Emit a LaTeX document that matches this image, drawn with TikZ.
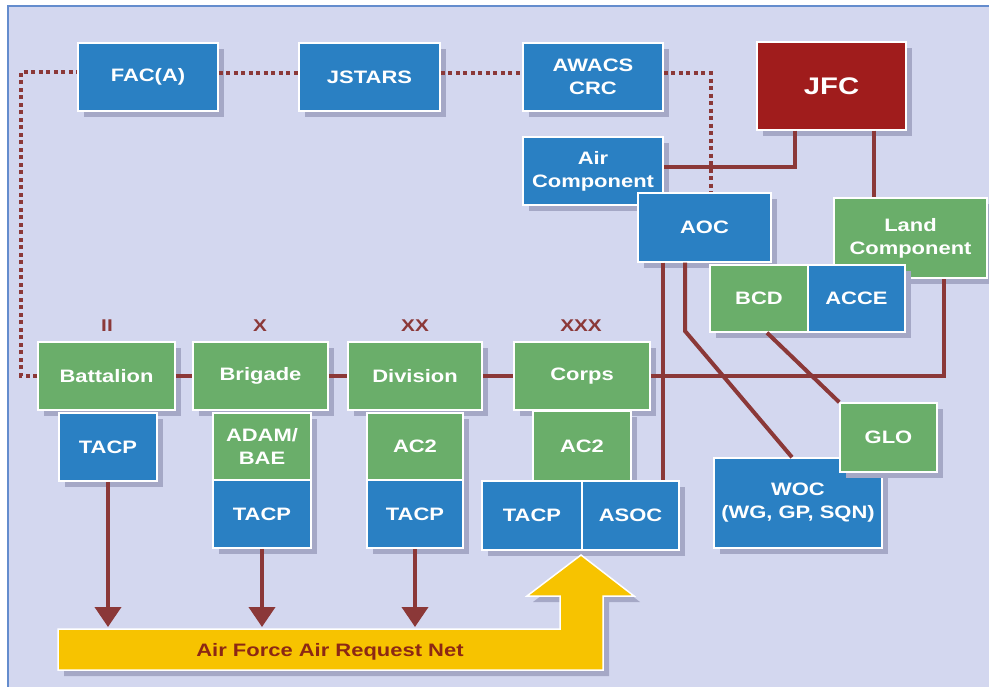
\documentclass[tikz,border=0pt]{standalone}
\usepackage{fontspec}
\setmainfont{Liberation Sans}[FakeStretch=1.22]
\usetikzlibrary{shadows,arrows.meta}
\definecolor{bgc}{RGB}{211,215,239}
\definecolor{framec}{RGB}{100,140,205}
\definecolor{bluec}{RGB}{42,128,195}
\definecolor{greenc}{RGB}{106,174,106}
\definecolor{jfcc}{RGB}{160,28,28}
\definecolor{linec}{RGB}{139,56,56}
\definecolor{shadowc}{RGB}{165,168,198}
\definecolor{yellowc}{RGB}{247,195,0}
\definecolor{nettextc}{RGB}{140,40,20}
\newcommand\boxat[7]{%
  \node[#1, minimum width={#5-#3}, minimum height={#6-#4}] (#2) at ({(#3+#5)/2},{(#4+#6)/2}) {#7};}
\begin{document}
\begin{tikzpicture}[x=1pt,y=-1pt,
  box/.style={draw=white, line width=1.5pt, inner sep=0pt, text=white, align=center,
    font=\bfseries\fontsize{18}{23}\selectfont,
    drop shadow={shadow xshift=6pt, shadow yshift=-6pt, fill=shadowc, opacity=1}},
  bbox/.style={box, fill=bluec},
  gbox/.style={box, fill=greenc},
  rbox/.style={box, fill=jfcc, font=\bfseries\fontsize{24}{24}\selectfont},
  link/.style={draw=linec, line width=4pt},
  dots/.style={draw=linec, line width=4pt, dash pattern=on 4pt off 3.5pt},
  downarrow/.style={draw=linec, fill=linec, line width=4pt, -{Triangle[width=26pt,length=20pt]}},
  echelon/.style={text=linec, font=\bfseries\fontsize{17}{17}\selectfont},
  nettext/.style={text=nettextc, font=\bfseries\fontsize{18}{18}\selectfont}]
\useasboundingbox (0,0) rectangle (989,687);
\fill[white] (0,0) rectangle (989,687);
\fill[bgc] (8,6) rectangle (989,687);
\draw[framec, line width=2pt] (8,687) -- (8,6) -- (989,6);

% top row
\boxat{bbox}{faca}{78}{43}{218}{111}{FAC(A)}
\boxat{bbox}{jstars}{299}{43}{440}{111}{JSTARS}
\boxat{bbox}{awacs}{523}{43}{663}{111}{AWACS\\CRC}
\boxat{rbox}{jfc}{757}{42}{906}{130}{JFC}
\boxat{bbox}{air}{523}{137}{663}{205}{Air\\Component}
\boxat{gbox}{land}{834}{198}{987}{278}{Land\\Component}
\boxat{bbox}{aoc}{638}{193}{771}{262}{AOC}
\boxat{gbox}{bcd}{710}{265}{808}{332}{BCD}
\boxat{bbox}{acce}{808}{265}{905}{332}{ACCE}
\boxat{bbox}{woc}{714}{458}{882}{548}{WOC\\(WG, GP, SQN)}
\boxat{gbox}{glo}{840}{403}{937}{472}{GLO}

% army echelons
\boxat{gbox}{bn}{38}{342}{175}{410}{Battalion}
\boxat{bbox}{bntacp}{59}{413}{157}{481}{TACP}
\boxat{gbox}{bde}{193}{342}{328}{410}{Brigade}
\boxat{gbox}{adam}{213}{413}{311}{480}{ADAM/\\BAE}
\boxat{bbox}{bdetacp}{213}{480}{311}{548}{TACP}
\boxat{gbox}{div}{348}{342}{482}{410}{Division}
\boxat{gbox}{divac}{367}{413}{463}{480}{AC2}
\boxat{bbox}{divtacp}{367}{480}{463}{548}{TACP}
\boxat{gbox}{corps}{514}{342}{650}{410}{Corps}
\boxat{gbox}{corpsac}{533}{411}{631}{481}{AC2}
\boxat{bbox}{corpstacp}{482}{481}{582}{550}{TACP}
\boxat{bbox}{asoc}{582}{481}{679}{550}{ASOC}

\node[echelon] (e2) at (107,326) {II};
\node[echelon] (e3) at (260,326) {X};
\node[echelon] (e4) at (415,326) {XX};
\node[echelon] (e5) at (581,326) {XXX};

% yellow request net
\filldraw[fill=yellowc, draw=white, line width=1.5pt,
  drop shadow={shadow xshift=6pt, shadow yshift=-6pt, fill=shadowc, opacity=1}]
  (58,629) -- (560,629) -- (560,596) -- (527,596) -- (581,555) -- (634,596)
  -- (603,596) -- (603,670) -- (58,670) -- cycle;
\node[nettext] (net) at (330,652) {Air Force Air Request Net};
\coordinate (net1) at (108,627);
\coordinate (net2) at (262,627);
\coordinate (net3) at (415,627);

% dotted links
\draw[dots] (bn.west) -- ++(-16,0) |- ([yshift=5pt]faca.west);
\draw[dots] ([yshift=4pt]faca.east) -- ([yshift=4pt]jstars.west);
\draw[dots] ([yshift=4pt]jstars.east) -- ([yshift=4pt]awacs.west);
\draw[dots] ([yshift=4pt]awacs.east) -| ([xshift=6pt]aoc.north);

% solid links
\draw[link] (bn.east) -- (bde.west);
\draw[link] (bde.east) -- (div.west);
\draw[link] (div.east) -- (corps.west);
\draw[link] (corps.east) -| ([xshift=33pt]land.south);
\draw[link] ([xshift=-36.5pt]jfc.south) |- ([yshift=4pt]air.east);
\draw[link] ([xshift=42pt]jfc.south) -- ([xshift=-37pt]land.north);
\draw[link] ([xshift=-41.5pt]aoc.south) -- ([xshift=32.5pt]asoc.north);
\coordinate (bend) at (685,331);
\draw[link] ([xshift=-19.5pt]aoc.south) -- (bend) -- ([xshift=-6pt]woc.north);
\draw[link] ([xshift=8pt]bcd.south) -- (glo.north west);

% arrows to the net
\draw[downarrow] (bntacp.south) -- (net1);
\draw[downarrow] (bdetacp.south) -- (net2);
\draw[downarrow] (divtacp.south) -- (net3);
\end{tikzpicture}
\end{document}
